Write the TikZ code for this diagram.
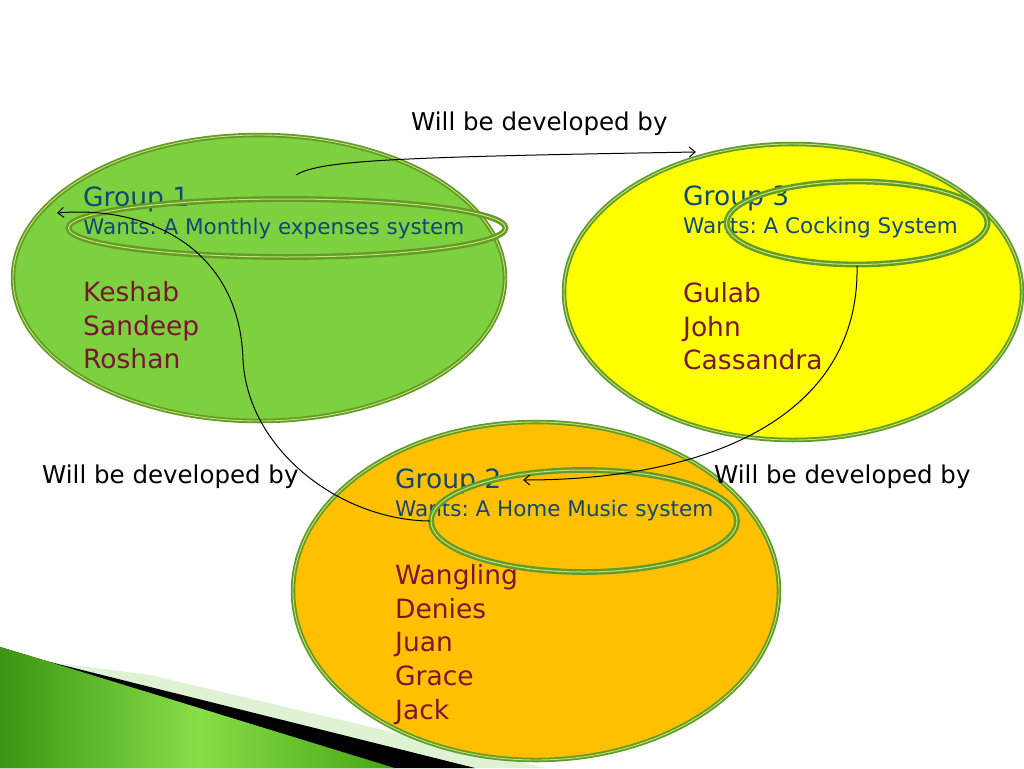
\documentclass[tikz,border=0pt]{standalone}
\usepackage{fontspec}
\setmainfont{DejaVu Sans}
\usetikzlibrary{shapes.geometric,arrows.meta}
\definecolor{grpgreen}{RGB}{126,209,62}
\definecolor{grpyellow}{RGB}{255,255,0}
\definecolor{grporange}{RGB}{255,192,0}
\definecolor{rimgreen}{RGB}{98,155,42}
\definecolor{rimlight}{RGB}{196,226,110}
\definecolor{titleblue}{RGB}{16,72,120}
\definecolor{namered}{RGB}{122,22,52}
\definecolor{palegreen}{RGB}{222,242,212}
\definecolor{darkleaf}{RGB}{58,150,18}
\definecolor{midleaf}{RGB}{135,222,72}
\definecolor{rightleaf}{RGB}{70,165,20}
\tikzset{
group/.style={ellipse,draw=rimgreen,double=rimlight,line width=1.8pt,double distance=0.9pt,inner sep=0pt},
wantring/.style={ellipse,draw=rimgreen,double=rimlight,line width=2.4pt,double distance=1pt,inner sep=0pt},
title/.style={anchor=base west,inner sep=0pt,text=titleblue,font=\fontsize{26.5}{30}\selectfont},
want/.style={anchor=base west,inner sep=0pt,text=titleblue,font=\fontsize{21.5}{26}\selectfont\frenchspacing},
member/.style={anchor=north west,inner sep=0pt,align=left,text=namered,font=\fontsize{26.5}{33.8}\selectfont},
devtext/.style={anchor=base west,inner sep=0pt,font=\fontsize{24.5}{28}\selectfont},
devarrow/.style={line width=1pt,-{Straight Barb[length=6pt,width=10pt]}},
}

\begin{document}
\begin{tikzpicture}[x=1pt,y=-1pt]
\useasboundingbox (0,0) rectangle (1024,768);
\fill[palegreen] (50,662) -- (150,675) -- (545,768) -- (470,768) -- cycle;
\fill[left color=darkleaf,right color=rightleaf,middle color=midleaf]
  (0,647) -- (50,662) -- (395,768) -- (0,768) -- cycle;
\fill[black] (50,662) -- (475,768) -- (395,768) -- cycle;

\node[group,fill=grpgreen,minimum width=492pt,minimum height=286pt] (g1) at (259,278) {};
\node[group,fill=grpyellow,minimum width=458pt,minimum height=296pt] (g3) at (793,292) {};
\node[group,fill=grporange,minimum width=486pt,minimum height=338pt] (g2) at (536,591) {};

\node[title] (t1) at (83,206) {Group 1};
\node[want] (d1) at (83,234) {Wants: A Monthly expenses system};
\node[member] (m1) at (83,281) {Keshab\\Sandeep\\Roshan};

\node[title] (t3) at (683,205) {Group 3};
\node[want] (d3) at (683,233) {Wants: A Cocking System};
\node[member] (m3) at (683,282) {Gulab\\John\\Cassandra};

\node[title] (t2) at (395,488) {Group 2};
\node[want] (d2) at (395,516) {Wants: A Home Music system};
\node[member] (m2) at (395,564) {Wangling\\Denies\\Juan\\Grace\\Jack};

\node[wantring,minimum width=437pt,minimum height=58pt] (w1) at (287,228) {};
\node[wantring,minimum width=261pt,minimum height=83pt] (w3) at (857,223) {};
\node[wantring,minimum width=306pt,minimum height=102pt] (w2) at (584,521) {};

\node[devtext] (v1) at (411,130) {Will be developed by};
\node[devtext] (v2) at (42,483) {Will be developed by};
\node[devtext] (v3) at (714,483) {Will be developed by};

\coordinate (s1) at (296,175);
\coordinate (e1) at (696,152);
\coordinate (e2) at (523,480);
\coordinate (e3) at (57,213);
\coordinate (k3) at (243,360);
\draw[devarrow] (s1) .. controls (320,160) and (400,157) .. (e1);
\draw[devarrow] (w3.south) .. controls (860,410) and (720,480) .. (e2);
\draw[devarrow] (w2.west) .. controls (340,520) and (248,450) .. (k3)
  .. controls (240,250) and (150,205) .. (e3);
\end{tikzpicture}
\end{document}
